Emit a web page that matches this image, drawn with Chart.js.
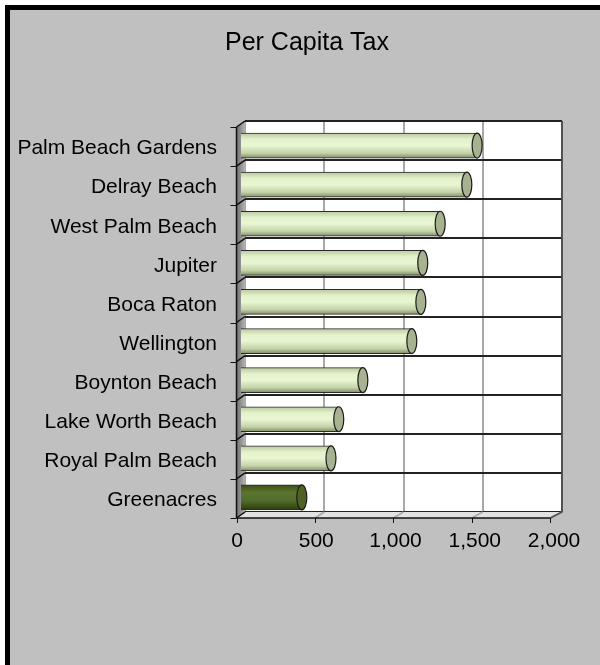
<!DOCTYPE html>
<html>
<head>
<meta charset="utf-8">
<title>Per Capita Tax</title>
<script src="https://cdn.jsdelivr.net/npm/chart.js@4.4.1/dist/chart.umd.min.js"></script>
<style>
  html, body { margin: 0; padding: 0; background: #fff; }
  #wrap { width: 600px; height: 665px; }
</style>
</head>
<body>
<div id="wrap"><canvas id="chartCanvas" width="600" height="665"></canvas></div>
<script>
var chartTitle = "Per Capita Tax";
var cities = ["Palm Beach Gardens", "Delray Beach", "West Palm Beach", "Jupiter", "Boca Raton", "Wellington", "Boynton Beach", "Lake Worth Beach", "Royal Palm Beach", "Greenacres"];
var taxPerCapita = [1496, 1431, 1263, 1153, 1141, 1084, 775, 623, 574, 390];
var highlightCity = "Greenacres";
var xMin = 0;
var xMax = 2000;
var xStep = 500;

var FONT = "'Liberation Sans', Arial, sans-serif";
var DEPTH_X = 8.5;   // how far the front edge of the box sits left of the back wall
var DEPTH_Y = 6;     // and how far below it
var BAR_SHIFT_X = -5;
var BAR_SHIFT_Y = 5;
var BAR_H = 25;

function isHighlight(i) {
  return cities[i] === highlightCity;
}

// vertical shading so each bar reads as a cylinder
function barFill(context) {
  var chart = context.chart;
  var yScale = chart.scales.y;
  var flat = isHighlight(context.dataIndex) ? "#506a28" : "#dcebc0";
  if (!yScale || context.dataIndex === undefined) return flat;
  var yc = yScale.getPixelForValue(context.dataIndex);
  if (!isFinite(yc)) return flat;
  var g = chart.ctx.createLinearGradient(0, yc - BAR_H / 2, 0, yc + BAR_H / 2);
  if (isHighlight(context.dataIndex)) {
    g.addColorStop(0, "#3c5016");
    g.addColorStop(0.3, "#5b7531");
    g.addColorStop(0.65, "#506a28");
    g.addColorStop(1, "#2c3b0e");
  } else {
    g.addColorStop(0, "#b9c8a0");
    g.addColorStop(0.25, "#e4f2cc");
    g.addColorStop(0.5, "#e9f6d3");
    g.addColorStop(0.8, "#c4d3a8");
    g.addColorStop(1, "#7f8c69");
  }
  return g;
}

// front position of a back-wall x pixel
function frontX(chart, px) {
  var a = chart.chartArea;
  var frontWidth = (a.right - a.left) - 3.2;
  return a.left - DEPTH_X + (px - a.left) * frontWidth / (a.right - a.left);
}

var boxPlugin = {
  id: "box3d",
  beforeDraw: function (chart) {
    var ctx = chart.ctx;
    var a = chart.chartArea;
    ctx.save();
    ctx.fillStyle = "#ffffff";
    ctx.fillRect(0, 0, chart.width, chart.height);
    ctx.fillStyle = "#000000";
    ctx.fillRect(5, 5, chart.width, chart.height);
    ctx.fillStyle = "#c0c0c0";
    ctx.fillRect(10, 10, chart.width, chart.height);
    ctx.fillStyle = "#ffffff";
    ctx.fillRect(a.left, a.top, a.right - a.left, a.bottom - a.top);

    // title, centred over the whole frame rather than the plot
    ctx.fillStyle = "#000";
    ctx.font = "25px " + FONT;
    ctx.textAlign = "center";
    ctx.textBaseline = "middle";
    ctx.fillText(chartTitle, 307, 43);
    ctx.restore();
  },
  beforeDatasetsDraw: function (chart) {
    var ctx = chart.ctx;
    var a = chart.chartArea;
    var xs = chart.scales.x;
    var ys = chart.scales.y;
    var fl = a.left - DEPTH_X;
    var fr = frontX(chart, a.right);
    ctx.save();

    // floor
    ctx.fillStyle = "#e2e2e2";
    ctx.beginPath();
    ctx.moveTo(a.left, a.bottom);
    ctx.lineTo(a.right, a.bottom);
    ctx.lineTo(fr, a.bottom + DEPTH_Y);
    ctx.lineTo(fl, a.bottom + DEPTH_Y);
    ctx.closePath();
    ctx.fill();
    ctx.strokeStyle = "#a8a8a8";
    ctx.lineWidth = 1.5;
    xs.ticks.forEach(function (t) {
      var px = xs.getPixelForValue(t.value);
      ctx.beginPath();
      ctx.moveTo(px, a.bottom);
      ctx.lineTo(frontX(chart, px), a.bottom + DEPTH_Y);
      ctx.stroke();
    });
    ctx.strokeStyle = "#505050";
    ctx.beginPath();
    ctx.moveTo(a.right, a.top);
    ctx.lineTo(a.right, a.bottom);
    ctx.lineTo(fr, a.bottom + DEPTH_Y);
    ctx.stroke();

    // front floor edge with tick marks
    ctx.strokeStyle = "#111";
    ctx.lineWidth = 1.5;
    ctx.beginPath();
    ctx.moveTo(fl, a.bottom + DEPTH_Y);
    ctx.lineTo(fr, a.bottom + DEPTH_Y);
    ctx.stroke();
    ctx.lineWidth = 1;
    xs.ticks.forEach(function (t) {
      var fx = Math.round(frontX(chart, xs.getPixelForValue(t.value))) + 0.5;
      ctx.beginPath();
      ctx.moveTo(fx, a.bottom + DEPTH_Y);
      ctx.lineTo(fx, a.bottom + DEPTH_Y + 5);
      ctx.stroke();
    });

    // left wall
    var wg = ctx.createLinearGradient(fl, 0, a.left, 0);
    wg.addColorStop(0, "#6e6e6e");
    wg.addColorStop(1, "#b4b4b4");
    ctx.fillStyle = wg;
    ctx.beginPath();
    ctx.moveTo(a.left, a.top);
    ctx.lineTo(a.left, a.bottom);
    ctx.lineTo(fl, a.bottom + DEPTH_Y);
    ctx.lineTo(fl, a.top + DEPTH_Y);
    ctx.closePath();
    ctx.fill();
    ctx.strokeStyle = "#111";
    ctx.lineWidth = 1.5;
    ctx.beginPath();
    ctx.moveTo(fl, a.top + DEPTH_Y);
    ctx.lineTo(fl, a.bottom + DEPTH_Y);
    ctx.stroke();

    // category boundaries across the wall, with tick marks on the front edge
    for (var i = 0; i <= cities.length; i++) {
      var yb = i === 0 ? a.top : ys.getPixelForValue(i - 0.5);
      ctx.lineWidth = 1.5;
      ctx.beginPath();
      ctx.moveTo(a.left, yb);
      ctx.lineTo(fl, yb + DEPTH_Y);
      ctx.stroke();
      ctx.lineWidth = 1;
      ctx.beginPath();
      ctx.moveTo(fl - 6, Math.round(yb + DEPTH_Y) + 0.5);
      ctx.lineTo(fl, Math.round(yb + DEPTH_Y) + 0.5);
      ctx.stroke();
    }
    ctx.restore();

    // bars sit a little in front of the back wall
    ctx.save();
    ctx.translate(BAR_SHIFT_X, BAR_SHIFT_Y);
  },
  afterDatasetsDraw: function (chart) {
    var ctx = chart.ctx;
    var meta = chart.getDatasetMeta(0);
    meta.data.forEach(function (bar, i) {
      var h = bar.height;
      ctx.beginPath();
      ctx.ellipse(bar.x, bar.y, 5, h / 2, 0, 0, Math.PI * 2);
      ctx.fillStyle = isHighlight(i) ? "#4d6223" : "#a7b291";
      ctx.fill();
      ctx.lineWidth = 1.2;
      ctx.strokeStyle = "#1a1a1a";
      ctx.stroke();
    });
    ctx.restore();
  }
};

var ctx = document.getElementById("chartCanvas");
var taxChart = new Chart(ctx, {
  type: "bar",
  data: {
    labels: cities,
    datasets: [
      {
        label: chartTitle,
        data: taxPerCapita,
        backgroundColor: barFill,
        borderColor: "#2a2a2a",
        borderWidth: 1,
        barThickness: BAR_H,
        clip: false
      }
    ]
  },
  options: {
    indexAxis: "y",
    responsive: false,
    animation: false,
    devicePixelRatio: 1,
    layout: { padding: { left: 0, right: 38, top: 121, bottom: 0 } },
    plugins: {
      legend: { display: false },
      tooltip: { enabled: false },
      title: { display: false }
    },
    scales: {
      x: {
        min: xMin,
        max: xMax,
        border: { display: false },
        grid: {
          drawTicks: false,
          lineWidth: 2,
          color: function (c) {
            return c.tick && c.tick.value === xMax ? "#5a5a5a" : "#a8a8a8";
          }
        },
        ticks: {
          stepSize: xStep,
          padding: 17,
          labelOffset: -8,
          maxRotation: 0,
          color: "#000",
          font: { family: FONT, size: 21 },
          callback: function (v) {
            return Number(v).toLocaleString("en-US");
          }
        },
        afterFit: function (scale) {
          scale.height = 153;
          // the right margin already leaves room for "2,000"
          scale.paddingLeft = 0;
          scale.paddingRight = 0;
        }
      },
      y: {
        border: { display: false },
        grid: {
          offset: true,
          drawTicks: false,
          lineWidth: 2,
          color: "#222"
        },
        ticks: {
          autoSkip: false,
          padding: 28,
          labelOffset: 8,
          color: "#000",
          font: { family: FONT, size: 21 }
        },
        afterFit: function (scale) {
          scale.width = 245;
        }
      }
    }
  },
  plugins: [boxPlugin]
});
</script>
</body>
</html>
